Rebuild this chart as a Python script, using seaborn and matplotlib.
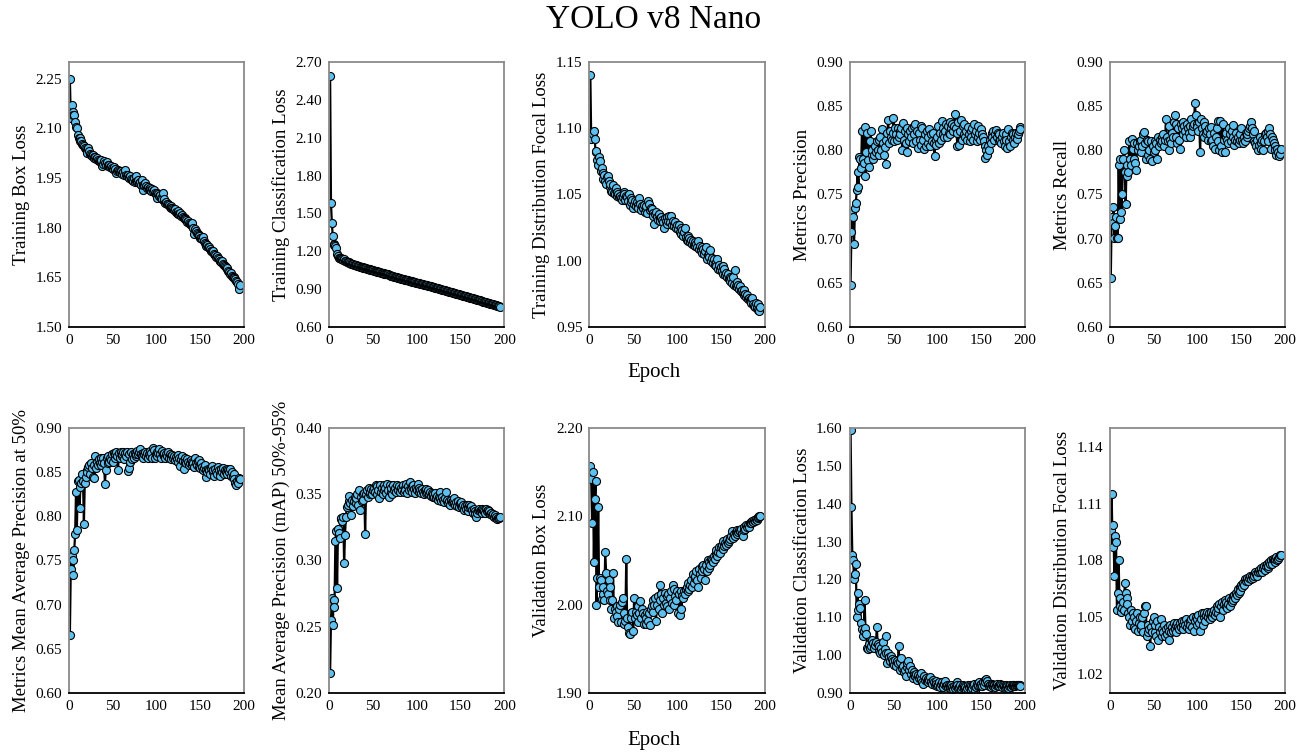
import numpy as np
import pandas as pd
import seaborn as sns
import matplotlib
matplotlib.use('Agg')
import matplotlib.pyplot as plt
from matplotlib.ticker import FormatStrFormatter

# values, one per epoch (epochs 1..195)
train_box = [
    2.250, 2.130, 2.170, 2.150, 2.140, 2.140, 2.120, 2.105, 2.100, 2.080,
    2.072, 2.070, 2.062, 2.060, 2.052, 2.048, 2.045, 2.040, 2.038, 2.035,
    2.025, 2.040, 2.030, 2.022, 2.018, 2.015, 2.020, 2.012, 2.010, 2.013,
    2.008, 2.010, 2.005, 2.002, 2.000, 1.998, 2.003, 1.985, 1.992, 2.000,
    1.995, 1.990, 1.998, 1.985, 1.988, 1.990, 1.983, 1.985, 1.980, 1.978,
    1.982, 1.975, 1.978, 1.965, 1.972, 1.975, 1.970, 1.968, 1.970, 1.965,
    1.962, 1.968, 1.960, 1.975, 1.958, 1.955, 1.960, 1.952, 1.950, 1.955,
    1.948, 1.945, 1.940, 1.950, 1.938, 1.942, 1.955, 1.940, 1.945, 1.935,
    1.938, 1.930, 1.945, 1.915, 1.930, 1.928, 1.935, 1.925, 1.920, 1.922,
    1.918, 1.920, 1.915, 1.912, 1.918, 1.910, 1.915, 1.905, 1.900, 1.905,
    1.890, 1.902, 1.895, 1.898, 1.890, 1.885, 1.905, 1.880, 1.885, 1.875,
    1.878, 1.872, 1.870, 1.868, 1.862, 1.865, 1.858, 1.860, 1.855, 1.852,
    1.855, 1.848, 1.845, 1.850, 1.842, 1.840, 1.845, 1.835, 1.838, 1.832,
    1.830, 1.828, 1.825, 1.822, 1.818, 1.820, 1.815, 1.810, 1.812, 1.805,
    1.815, 1.800, 1.780, 1.795, 1.790, 1.785, 1.782, 1.778, 1.775, 1.770,
    1.768, 1.765, 1.772, 1.760, 1.755, 1.750, 1.745, 1.748, 1.740, 1.742,
    1.735, 1.730, 1.728, 1.725, 1.730, 1.720, 1.718, 1.712, 1.715, 1.708,
    1.705, 1.700, 1.698, 1.695, 1.700, 1.690, 1.688, 1.685, 1.680, 1.675,
    1.678, 1.670, 1.665, 1.660, 1.662, 1.655, 1.652, 1.650, 1.648, 1.645,
    1.640, 1.635, 1.630, 1.615, 1.628]

train_cls = [
    2.590, 1.580, 1.425, 1.320, 1.260, 1.250, 1.240, 1.225, 1.180, 1.160,
    1.150, 1.145, 1.150, 1.140, 1.135, 1.130, 1.138, 1.125, 1.120, 1.118,
    1.115, 1.110, 1.112, 1.105, 1.102, 1.100, 1.098, 1.095, 1.092, 1.090,
    1.088, 1.085, 1.082, 1.080, 1.078, 1.076, 1.075, 1.072, 1.070, 1.068,
    1.066, 1.065, 1.062, 1.060, 1.058, 1.056, 1.055, 1.052, 1.050, 1.048,
    1.046, 1.044, 1.042, 1.040, 1.038, 1.036, 1.034, 1.032, 1.030, 1.028,
    1.026, 1.024, 1.022, 1.020, 1.018, 1.016, 1.020, 1.012, 1.010, 1.008,
    1.006, 1.004, 1.002, 1.000, 0.998, 0.996, 0.994, 0.992, 0.990, 0.988,
    0.986, 0.984, 0.983, 0.980, 0.979, 0.976, 0.975, 0.973, 0.971, 0.969,
    0.967, 0.966, 0.963, 0.962, 0.960, 0.958, 0.956, 0.955, 0.952, 0.951,
    0.949, 0.947, 0.945, 0.944, 0.941, 0.940, 0.938, 0.936, 0.934, 0.932,
    0.930, 0.929, 0.926, 0.925, 0.923, 0.921, 0.919, 0.917, 0.915, 0.914,
    0.912, 0.910, 0.908, 0.906, 0.904, 0.902, 0.900, 0.898, 0.896, 0.895,
    0.892, 0.891, 0.888, 0.887, 0.884, 0.883, 0.880, 0.879, 0.876, 0.875,
    0.872, 0.871, 0.868, 0.867, 0.864, 0.863, 0.860, 0.858, 0.856, 0.854,
    0.852, 0.850, 0.848, 0.846, 0.844, 0.842, 0.840, 0.838, 0.836, 0.834,
    0.832, 0.830, 0.828, 0.826, 0.824, 0.822, 0.820, 0.818, 0.816, 0.814,
    0.812, 0.810, 0.808, 0.806, 0.804, 0.802, 0.800, 0.798, 0.796, 0.794,
    0.792, 0.790, 0.788, 0.786, 0.784, 0.782, 0.780, 0.778, 0.776, 0.774,
    0.772, 0.770, 0.768, 0.766, 0.760]

train_dfl = [
    1.140, 1.092, 1.097, 1.096, 1.098, 1.092, 1.082, 1.083, 1.076, 1.072,
    1.078, 1.075, 1.068, 1.070, 1.066, 1.062, 1.065, 1.060, 1.058, 1.063,
    1.064, 1.060, 1.056, 1.058, 1.053, 1.052, 1.057, 1.051, 1.050, 1.055,
    1.052, 1.049, 1.050, 1.048, 1.049, 1.047, 1.046, 1.048, 1.052, 1.050,
    1.046, 1.049, 1.048, 1.045, 1.050, 1.042, 1.047, 1.044, 1.046, 1.040,
    1.043, 1.045, 1.041, 1.044, 1.042, 1.040, 1.047, 1.043, 1.038, 1.041,
    1.040, 1.042, 1.037, 1.039, 1.041, 1.036, 1.045, 1.043, 1.038, 1.040,
    1.039, 1.036, 1.034, 1.028, 1.035, 1.037, 1.033, 1.031, 1.035, 1.032,
    1.030, 1.033, 1.031, 1.029, 1.025, 1.032, 1.030, 1.033, 1.028, 1.030,
    1.034, 1.029, 1.034, 1.027, 1.030, 1.028, 1.026, 1.029, 1.025, 1.027,
    1.024, 1.027, 1.022, 1.025, 1.020, 1.023, 1.019, 1.022, 1.025, 1.018,
    1.016, 1.019, 1.015, 1.017, 1.014, 1.016, 1.013, 1.015, 1.012, 1.014,
    1.011, 1.013, 1.010, 1.015, 1.009, 1.011, 1.008, 1.010, 1.006, 1.009,
    1.005, 1.007, 1.010, 1.001, 1.004, 1.006, 1.003, 1.008, 1.000, 1.002,
    0.998, 1.001, 0.997, 0.999, 0.996, 1.001, 0.994, 0.997, 0.993, 0.995,
    0.992, 0.996, 0.990, 0.994, 0.989, 0.991, 0.988, 0.990, 0.986, 0.988,
    0.985, 0.987, 0.983, 0.988, 0.982, 0.993, 0.981, 0.984, 0.980, 0.982,
    0.979, 0.981, 0.977, 0.978, 0.976, 0.978, 0.974, 0.975, 0.973, 0.974,
    0.971, 0.972, 0.970, 0.971, 0.968, 0.972, 0.967, 0.966, 0.965, 0.968,
    0.964, 0.967, 0.963, 0.962, 0.965]

precision = [
    0.648, 0.708, 0.730, 0.725, 0.694, 0.735, 0.740, 0.755, 0.775, 0.758,
    0.792, 0.790, 0.780, 0.822, 0.790, 0.786, 0.826, 0.771, 0.798, 0.820,
    0.789, 0.781, 0.810, 0.822, 0.795, 0.800, 0.790, 0.795, 0.805, 0.798,
    0.810, 0.800, 0.812, 0.795, 0.815, 0.800, 0.824, 0.808, 0.795, 0.804,
    0.784, 0.812, 0.820, 0.834, 0.808, 0.822, 0.815, 0.812, 0.820, 0.837,
    0.810, 0.825, 0.818, 0.812, 0.825, 0.815, 0.822, 0.818, 0.825, 0.800,
    0.831, 0.812, 0.822, 0.808, 0.825, 0.798, 0.818, 0.810, 0.822, 0.815,
    0.825, 0.808, 0.818, 0.828, 0.830, 0.810, 0.822, 0.803, 0.820, 0.812,
    0.828, 0.806, 0.825, 0.812, 0.802, 0.818, 0.805, 0.822, 0.808, 0.815,
    0.824, 0.805, 0.818, 0.810, 0.820, 0.808, 0.794, 0.812, 0.806, 0.815,
    0.828, 0.808, 0.820, 0.812, 0.833, 0.818, 0.825, 0.815, 0.822, 0.830,
    0.815, 0.828, 0.820, 0.832, 0.818, 0.825, 0.830, 0.822, 0.828, 0.841,
    0.825, 0.820, 0.805, 0.832, 0.806, 0.822, 0.834, 0.812, 0.828, 0.818,
    0.830, 0.815, 0.822, 0.812, 0.826, 0.818, 0.810, 0.822, 0.815, 0.825,
    0.812, 0.830, 0.818, 0.822, 0.810, 0.828, 0.815, 0.820, 0.812, 0.824,
    0.818, 0.815, 0.810, 0.805, 0.791, 0.800, 0.795, 0.805, 0.800, 0.812,
    0.808, 0.820, 0.815, 0.822, 0.812, 0.818, 0.823, 0.815, 0.820, 0.810,
    0.818, 0.812, 0.808, 0.815, 0.820, 0.810, 0.805, 0.818, 0.812, 0.803,
    0.824, 0.810, 0.805, 0.815, 0.820, 0.812, 0.818, 0.808, 0.815, 0.820,
    0.813, 0.819, 0.822, 0.826, 0.824]

recall = [
    0.656, 0.725, 0.718, 0.736, 0.701, 0.714, 0.725, 0.701, 0.701, 0.783,
    0.722, 0.790, 0.730, 0.751, 0.790, 0.800, 0.775, 0.739, 0.783, 0.771,
    0.775, 0.810, 0.790, 0.783, 0.813, 0.802, 0.790, 0.808, 0.786, 0.778,
    0.808, 0.800, 0.805, 0.810, 0.798, 0.812, 0.805, 0.818, 0.821, 0.808,
    0.790, 0.812, 0.795, 0.810, 0.800, 0.790, 0.811, 0.788, 0.805, 0.798,
    0.810, 0.800, 0.808, 0.790, 0.815, 0.805, 0.812, 0.808, 0.815, 0.810,
    0.818, 0.805, 0.812, 0.836, 0.815, 0.810, 0.800, 0.828, 0.812, 0.808,
    0.820, 0.815, 0.832, 0.840, 0.815, 0.830, 0.808, 0.825, 0.812, 0.802,
    0.830, 0.825, 0.832, 0.818, 0.828, 0.822, 0.815, 0.830, 0.825, 0.820,
    0.828, 0.815, 0.835, 0.822, 0.828, 0.830, 0.853, 0.840, 0.830, 0.826,
    0.822, 0.832, 0.798, 0.835, 0.825, 0.818, 0.832, 0.815, 0.828, 0.820,
    0.822, 0.812, 0.825, 0.818, 0.810, 0.826, 0.812, 0.805, 0.820, 0.802,
    0.815, 0.825, 0.833, 0.810, 0.800, 0.833, 0.805, 0.798, 0.830, 0.812,
    0.798, 0.815, 0.820, 0.812, 0.808, 0.825, 0.818, 0.810, 0.822, 0.829,
    0.815, 0.806, 0.812, 0.820, 0.810, 0.815, 0.808, 0.812, 0.818, 0.825,
    0.812, 0.808, 0.815, 0.810, 0.820, 0.815, 0.818, 0.822, 0.825, 0.828,
    0.832, 0.825, 0.818, 0.822, 0.810, 0.808, 0.805, 0.812, 0.800, 0.806,
    0.815, 0.808, 0.802, 0.812, 0.800, 0.810, 0.818, 0.820, 0.815, 0.810,
    0.822, 0.825, 0.818, 0.802, 0.815, 0.812, 0.808, 0.805, 0.800, 0.795,
    0.802, 0.798, 0.794, 0.796, 0.801]

map50 = [
    0.666, 0.740, 0.755, 0.750, 0.734, 0.762, 0.780, 0.828, 0.785, 0.840,
    0.841, 0.809, 0.833, 0.838, 0.848, 0.840, 0.791, 0.838, 0.845, 0.852,
    0.850, 0.856, 0.858, 0.848, 0.860, 0.855, 0.845, 0.858, 0.843, 0.868,
    0.855, 0.862, 0.858, 0.865, 0.860, 0.866, 0.858, 0.862, 0.866, 0.860,
    0.837, 0.852, 0.866, 0.860, 0.868, 0.862, 0.866, 0.864, 0.870, 0.862,
    0.872, 0.866, 0.870, 0.873, 0.868, 0.852, 0.872, 0.866, 0.873, 0.868,
    0.870, 0.873, 0.865, 0.872, 0.868, 0.873, 0.851, 0.855, 0.870, 0.862,
    0.873, 0.865, 0.870, 0.866, 0.872, 0.868, 0.871, 0.874, 0.870, 0.873,
    0.876, 0.870, 0.868, 0.872, 0.866, 0.870, 0.873, 0.868, 0.872, 0.866,
    0.870, 0.874, 0.868, 0.872, 0.866, 0.877, 0.875, 0.866, 0.870, 0.873,
    0.868, 0.872, 0.876, 0.870, 0.866, 0.874, 0.870, 0.868, 0.872, 0.866,
    0.870, 0.868, 0.873, 0.866, 0.870, 0.868, 0.865, 0.869, 0.866, 0.868,
    0.864, 0.867, 0.865, 0.862, 0.869, 0.866, 0.857, 0.865, 0.868, 0.863,
    0.854, 0.866, 0.862, 0.860, 0.865, 0.862, 0.858, 0.860, 0.864, 0.858,
    0.862, 0.860, 0.856, 0.866, 0.860, 0.858, 0.863, 0.856, 0.864, 0.855,
    0.860, 0.856, 0.852, 0.855, 0.858, 0.844, 0.852, 0.850, 0.854, 0.852,
    0.848, 0.855, 0.857, 0.850, 0.852, 0.846, 0.854, 0.850, 0.848, 0.856,
    0.852, 0.848, 0.846, 0.853, 0.850, 0.855, 0.848, 0.852, 0.850, 0.853,
    0.848, 0.852, 0.850, 0.853, 0.846, 0.850, 0.845, 0.848, 0.842, 0.838,
    0.835, 0.840, 0.838, 0.843, 0.842]

map5095 = [
    0.215, 0.255, 0.272, 0.251, 0.270, 0.265, 0.315, 0.322, 0.279, 0.324,
    0.321, 0.317, 0.331, 0.332, 0.330, 0.333, 0.298, 0.319, 0.333, 0.340,
    0.342, 0.345, 0.349, 0.343, 0.334, 0.346, 0.341, 0.345, 0.348, 0.343,
    0.347, 0.350, 0.342, 0.353, 0.338, 0.348, 0.345, 0.350, 0.346, 0.351,
    0.320, 0.350, 0.353, 0.348, 0.355, 0.350, 0.352, 0.354, 0.350, 0.353,
    0.355, 0.352, 0.357, 0.350, 0.356, 0.353, 0.347, 0.357, 0.352, 0.355,
    0.350, 0.357, 0.353, 0.355, 0.351, 0.358, 0.353, 0.348, 0.357, 0.352,
    0.355, 0.350, 0.357, 0.353, 0.355, 0.352, 0.357, 0.354, 0.353, 0.356,
    0.352, 0.355, 0.353, 0.357, 0.352, 0.355, 0.353, 0.358, 0.351, 0.356,
    0.353, 0.359, 0.354, 0.356, 0.352, 0.357, 0.354, 0.351, 0.355, 0.353,
    0.358, 0.352, 0.355, 0.353, 0.351, 0.354, 0.352, 0.350, 0.353, 0.351,
    0.354, 0.352, 0.353, 0.350, 0.352, 0.349, 0.351, 0.348, 0.350, 0.348,
    0.351, 0.347, 0.349, 0.346, 0.348, 0.352, 0.347, 0.345, 0.348, 0.346,
    0.344, 0.347, 0.352, 0.345, 0.346, 0.343, 0.345, 0.342, 0.346, 0.344,
    0.345, 0.343, 0.347, 0.342, 0.344, 0.341, 0.345, 0.340, 0.343, 0.341,
    0.344, 0.340, 0.342, 0.338, 0.341, 0.339, 0.342, 0.337, 0.340, 0.342,
    0.340, 0.341, 0.338, 0.336, 0.339, 0.337, 0.335, 0.333, 0.336, 0.338,
    0.339, 0.337, 0.338, 0.336, 0.339, 0.338, 0.337, 0.336, 0.339, 0.337,
    0.338, 0.336, 0.337, 0.335, 0.336, 0.334, 0.335, 0.333, 0.334, 0.332,
    0.333, 0.331, 0.332, 0.332, 0.333]

val_box = [
    2.157, 2.142, 2.092, 2.150, 2.048, 2.120, 2.140, 2.000, 2.030, 2.111,
    2.020, 2.030, 2.028, 2.006, 2.012, 2.020, 2.005, 2.060, 2.036, 2.015,
    2.012, 2.028, 2.020, 2.005, 1.995, 2.005, 2.036, 1.985, 1.995, 1.992,
    1.998, 1.987, 1.980, 1.995, 2.000, 1.980, 2.003, 2.008, 1.990, 1.978,
    1.982, 2.052, 1.985, 1.975, 1.968, 1.967, 1.990, 1.985, 1.992, 1.970,
    2.008, 1.985, 1.992, 1.988, 1.998, 1.980, 1.990, 2.004, 1.985, 1.995,
    1.990, 1.978, 1.988, 1.985, 1.978, 1.992, 1.982, 1.990, 1.977, 1.995,
    1.998, 2.005, 1.992, 2.000, 2.008, 1.982, 2.000, 2.010, 1.995, 2.022,
    2.005, 2.012, 1.990, 2.008, 2.000, 2.013, 2.002, 2.010, 1.998, 2.012,
    1.995, 2.008, 2.015, 2.002, 2.022, 2.000, 2.018, 2.010, 2.005, 2.015,
    1.990, 2.012, 1.988, 2.015, 1.995, 2.010, 2.008, 2.015, 2.012, 2.018,
    2.020, 2.015, 2.025, 2.018, 2.022, 2.028, 2.020, 2.035, 2.025, 2.030,
    2.032, 2.038, 2.028, 2.020, 2.040, 2.035, 2.030, 2.044, 2.038, 2.045,
    2.040, 2.028, 2.045, 2.038, 2.050, 2.042, 2.048, 2.045, 2.052, 2.050,
    2.048, 2.055, 2.052, 2.058, 2.062, 2.055, 2.060, 2.065, 2.058, 2.065,
    2.068, 2.063, 2.072, 2.066, 2.070, 2.068, 2.074, 2.070, 2.072, 2.076,
    2.074, 2.078, 2.083, 2.076, 2.080, 2.078, 2.082, 2.080, 2.084, 2.082,
    2.085, 2.083, 2.086, 2.080, 2.078, 2.085, 2.088, 2.086, 2.090, 2.088,
    2.090, 2.088, 2.092, 2.094, 2.092, 2.095, 2.094, 2.096, 2.095, 2.097,
    2.096, 2.098, 2.099, 2.100, 2.100]

val_cls = [
    1.595, 1.390, 1.265, 1.250, 1.200, 1.215, 1.240, 1.100, 1.165, 1.120,
    1.135, 1.125, 1.085, 1.070, 1.050, 1.065, 1.145, 1.072, 1.055, 1.020,
    1.015, 1.030, 1.018, 1.025, 1.038, 1.040, 1.032, 1.020, 1.028, 1.035,
    1.073, 1.030, 1.012, 1.025, 1.005, 1.020, 1.008, 1.035, 1.000, 1.015,
    1.050, 1.005, 0.980, 1.005, 0.995, 0.985, 0.998, 0.990, 0.980, 0.985,
    0.975, 0.988, 0.970, 0.985, 0.978, 1.023, 0.960, 0.982, 0.993, 0.965,
    0.970, 0.955, 0.962, 0.945, 0.968, 0.980, 0.985, 0.960, 0.970, 0.950,
    0.962, 0.940, 0.955, 0.948, 0.945, 0.950, 0.935, 0.948, 0.940, 0.945,
    0.938, 0.952, 0.930, 0.925, 0.945, 0.935, 0.940, 0.932, 0.938, 0.928,
    0.935, 0.942, 0.930, 0.925, 0.935, 0.928, 0.920, 0.932, 0.925, 0.918,
    0.922, 0.928, 0.915, 0.925, 0.930, 0.920, 0.915, 0.925, 0.932, 0.918,
    0.922, 0.915, 0.920, 0.912, 0.918, 0.922, 0.915, 0.910, 0.918, 0.914,
    0.918, 0.928, 0.920, 0.912, 0.916, 0.922, 0.910, 0.915, 0.920, 0.912,
    0.918, 0.915, 0.908, 0.912, 0.920, 0.915, 0.922, 0.918, 0.908, 0.912,
    0.920, 0.925, 0.906, 0.915, 0.925, 0.918, 0.922, 0.928, 0.920, 0.925,
    0.918, 0.930, 0.922, 0.935, 0.928, 0.938, 0.932, 0.925, 0.918, 0.922,
    0.915, 0.925, 0.920, 0.918, 0.922, 0.915, 0.920, 0.925, 0.918, 0.922,
    0.918, 0.925, 0.920, 0.915, 0.922, 0.918, 0.912, 0.920, 0.915, 0.918,
    0.912, 0.918, 0.922, 0.915, 0.920, 0.918, 0.922, 0.920, 0.918, 0.922,
    0.920, 0.922, 0.921, 0.920, 0.919]

val_dfl = [
    1.096, 1.115, 1.087, 1.099, 1.072, 1.093, 1.090, 1.054, 1.063, 1.080,
    1.056, 1.060, 1.053, 1.055, 1.058, 1.054, 1.068, 1.063, 1.060, 1.057,
    1.052, 1.050, 1.046, 1.054, 1.048, 1.052, 1.045, 1.050, 1.044, 1.048,
    1.052, 1.043, 1.047, 1.050, 1.044, 1.046, 1.050, 1.042, 1.052, 1.056,
    1.056, 1.040, 1.046, 1.042, 1.044, 1.035, 1.045, 1.042, 1.048, 1.050,
    1.042, 1.046, 1.040, 1.048, 1.038, 1.045, 1.042, 1.049, 1.040, 1.044,
    1.042, 1.046, 1.040, 1.044, 1.041, 1.045, 1.043, 1.038, 1.046, 1.042,
    1.045, 1.043, 1.047, 1.044, 1.046, 1.042, 1.047, 1.045, 1.044, 1.047,
    1.045, 1.048, 1.046, 1.044, 1.048, 1.046, 1.049, 1.045, 1.047, 1.044,
    1.048, 1.046, 1.049, 1.045, 1.050, 1.043, 1.048, 1.050, 1.046, 1.049,
    1.051, 1.047, 1.043, 1.049, 1.052, 1.046, 1.050, 1.052, 1.048, 1.051,
    1.053, 1.050, 1.052, 1.049, 1.051, 1.053, 1.050, 1.052, 1.054, 1.051,
    1.053, 1.056, 1.052, 1.055, 1.057, 1.050, 1.056, 1.058, 1.054, 1.057,
    1.059, 1.056, 1.058, 1.055, 1.057, 1.060, 1.056, 1.059, 1.058, 1.061,
    1.059, 1.062, 1.060, 1.063, 1.062, 1.065, 1.063, 1.066, 1.064, 1.067,
    1.066, 1.068, 1.067, 1.070, 1.069, 1.070, 1.071, 1.069, 1.071, 1.072,
    1.070, 1.072, 1.071, 1.073, 1.072, 1.074, 1.073, 1.072, 1.074, 1.075,
    1.074, 1.075, 1.076, 1.074, 1.076, 1.077, 1.075, 1.077, 1.078, 1.076,
    1.077, 1.079, 1.078, 1.080, 1.078, 1.081, 1.080, 1.079, 1.081, 1.082,
    1.080, 1.081, 1.082, 1.083, 1.083]

epochs = np.arange(1, len(train_box) + 1)

panels = [
    ('Training Box Loss', train_box, (1.50, 2.30), 0.15),
    ('Training Classification Loss', train_cls, (0.60, 2.70), 0.30),
    ('Training Distribution Focal Loss', train_dfl, (0.95, 1.15), 0.05),
    ('Metrics Precision', precision, (0.60, 0.90), 0.05),
    ('Metrics Recall', recall, (0.60, 0.90), 0.05),
    ('Metrics Mean Average Precision at 50%', map50, (0.60, 0.90), 0.05),
    ('Mean Average Precision (mAP) 50%-95%', map5095, (0.20, 0.40), 0.05),
    ('Validation Box Loss', val_box, (1.90, 2.20), 0.10),
    ('Validation Classification Loss', val_cls, (0.90, 1.60), 0.10),
    ('Validation Distribution Focal Loss', val_dfl, (1.01, 1.15), 0.03),
]

sns.set_style('white')
plt.rcParams['font.family'] = ['Liberation Serif', 'DejaVu Serif']
plt.rcParams['text.color'] = 'black'
plt.rcParams['axes.labelcolor'] = 'black'

fig, axes = plt.subplots(2, 5, figsize=(13.07, 7.53), dpi=100)
fig.subplots_adjust(left=0.0528, right=0.9832, bottom=0.0797, top=0.9177,
                    wspace=0.486, hspace=0.381)

for ax, (label, vals, ylim, step) in zip(axes.flat, panels):
    df = pd.DataFrame({'epoch': epochs, 'value': vals})
    sns.lineplot(data=df, x='epoch', y='value', ax=ax, color='black',
                 linewidth=1.6, marker='o', markersize=5.8,
                 markerfacecolor='#5EC0EE', markeredgecolor='black',
                 markeredgewidth=0.8)
    ax.set_xlim(0, 200)
    ax.set_ylim(*ylim)
    if label == 'Validation Distribution Focal Loss':
        ax.set_yticks(np.arange(1.02, 1.141, 0.03))
    else:
        ax.set_yticks(np.arange(ylim[0], ylim[1] + 1e-9, step))
    ax.set_xticks([0, 50, 100, 150, 200])
    ax.yaxis.set_major_formatter(FormatStrFormatter('%.2f'))
    ax.set_xlabel('')
    ax.set_ylabel(label, fontsize=13.5, color='black')
    ax.tick_params(axis='both', labelsize=11, labelcolor='black')
    ax.tick_params(axis='x', direction='in', length=3, color='#808080', pad=5)
    ax.tick_params(axis='y', length=0, pad=5)
    for side in ['left', 'top', 'right']:
        ax.spines[side].set_color('#8a8a8a')
        ax.spines[side].set_linewidth(1.3)
    ax.spines['bottom'].set_color('black')
    ax.spines['bottom'].set_linewidth(1.3)

fig.text(0.5, 1 - 20 / 753, 'YOLO v8 Nano', ha='center', va='center',
         fontsize=24, color='black')
fig.text(0.5, 1 - 373 / 753, 'Epoch', ha='center', va='center', fontsize=15,
         color='black')
fig.text(0.5, 1 - 740 / 753, 'Epoch', ha='center', va='center', fontsize=15,
         color='black')

fig.savefig('out.png', dpi=100)
